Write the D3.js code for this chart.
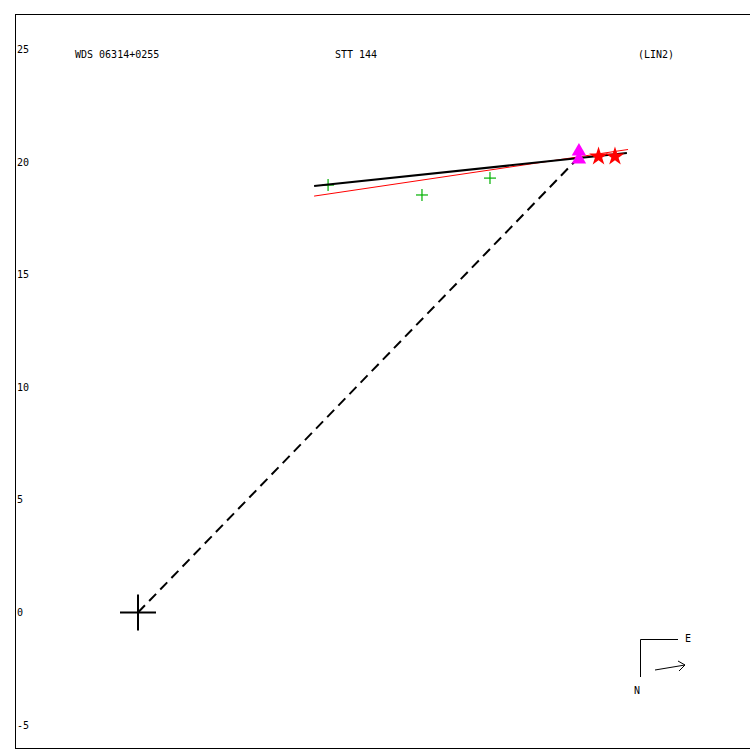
<!DOCTYPE html>
<html><head><meta charset="utf-8">
<script src="https://cdn.jsdelivr.net/npm/d3@7"></script>
<style>body{margin:0;background:#fff}svg{display:block}text{font-family:"DejaVu Sans Mono",monospace;font-size:10px;fill:#000}</style>
</head><body>
<script>
const yTicks = [-5, 0, 5, 10, 15, 20, 25];
const titles = ["WDS 06314+0255", "STT 144", "(LIN2)"];
const obsPlus = [[8.44, 18.98], [12.61, 18.54], [15.63, 19.29]];
const obsTri = [[19.58, 20.48], [19.58, 20.12]];
const obsStar = [[20.45, 20.25], [21.18, 20.25]];
const fitBlack = [[7.82, 18.94], [21.71, 20.40]];
const fitRed = [[7.82, 18.49], [21.76, 20.56]];
const dashed = [[0, 0], [19.54, 20.18]];

const W = 750, H = 750;
const ppu = 22.52;
const x = d3.scaleLinear().domain([0, 10]).range([138, 138 + 10 * ppu]);
const y = d3.scaleLinear().domain([0, 10]).range([612.5, 612.5 - 10 * ppu]);

const svg = d3.select("body").append("svg").attr("width", W).attr("height", H);
svg.append("rect").attr("x", 15.5).attr("y", 14.5).attr("width", 740).attr("height", 734)
  .attr("fill", "none").attr("stroke", "#000").attr("stroke-width", 1);

svg.selectAll(".yt").data(yTicks).join("text").attr("x", 17).attr("y", d => y(d) + 3.5).text(d => d < 0 ? "\u2212" + (-d) : d).text(d => String(d));

svg.append("text").attr("x", 75).attr("y", 58).text(titles[0]);
svg.append("text").attr("x", 335).attr("y", 58).text(titles[1]);
svg.append("text").attr("x", 638).attr("y", 58).text(titles[2]);

const line = d3.line().x(d => x(d[0])).y(d => y(d[1]));
svg.append("path").attr("d", line(dashed)).attr("stroke", "#000").attr("stroke-width", 2).attr("stroke-dasharray", "10,6").attr("fill", "none");
svg.append("path").attr("d", line(fitRed)).attr("stroke", "#f00").attr("stroke-width", 1).attr("fill", "none");

// green plus markers
const g = svg.append("g").attr("stroke", "#00b000").attr("stroke-width", 1.2);
obsPlus.forEach(d => {
  const cx = x(d[0]), cy = y(d[1]);
  g.append("line").attr("x1", cx - 6).attr("x2", cx + 6).attr("y1", cy).attr("y2", cy);
  g.append("line").attr("x1", cx).attr("x2", cx).attr("y1", cy - 6).attr("y2", cy + 6);
});

svg.append("path").attr("d", line(fitBlack)).attr("stroke", "#000").attr("stroke-width", 2).attr("fill", "none");

svg.selectAll(".tri").data(obsTri).join("path")
  .attr("d", d3.symbol(d3.symbolTriangle, 90))
  .attr("transform", d => `translate(${x(d[0])},${y(d[1])})`)
  .attr("fill", "#f0f");
svg.selectAll(".star").data(obsStar).join("path")
  .attr("d", d3.symbol(d3.symbolStar, 110))
  .attr("transform", d => `translate(${x(d[0])},${y(d[1])})`)
  .attr("fill", "#f00");

// origin cross
const ox = x(0), oy = y(0);
svg.append("line").attr("x1", ox - 18).attr("x2", ox + 18).attr("y1", oy).attr("y2", oy).attr("stroke", "#000").attr("stroke-width", 2);
svg.append("line").attr("x1", ox).attr("x2", ox).attr("y1", oy - 18).attr("y2", oy + 18).attr("stroke", "#000").attr("stroke-width", 2);

// compass
svg.append("path").attr("d", "M640.5,677 L640.5,639.5 L678,639.5").attr("fill", "none").attr("stroke", "#000").attr("stroke-width", 1);
svg.append("text").attr("x", 685).attr("y", 642).text("E");
svg.append("text").attr("x", 634).attr("y", 694).text("N");
svg.append("path").attr("d", "M655,670 L685,665 M678,661 L685,665 L679,671").attr("fill", "none").attr("stroke", "#000").attr("stroke-width", 1);
</script>
</body></html>
